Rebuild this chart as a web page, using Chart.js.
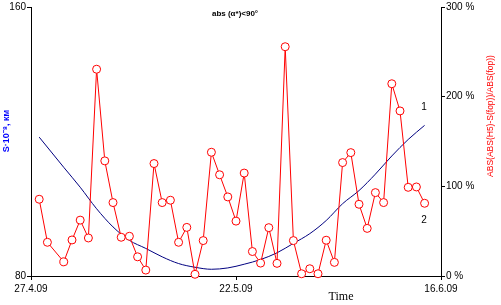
<!DOCTYPE html>
<html>
<head>
<meta charset="utf-8">
<script src="https://cdn.jsdelivr.net/npm/chart.js@4/dist/chart.umd.min.js"></script>
<style>
  html, body { margin: 0; padding: 0; background: #fff; }
  #wrap { width: 501px; height: 305px; }
</style>
</head>
<body>
<div id="wrap"><canvas id="c"></canvas></div>
<script>
// days counted from 27.4.09
const dateLabels = ['27.4.09', '22.5.09', '16.6.09'];
const dateTicks = [0, 25, 50];

// curve 2: relative deviation, %
const ratioDays = [1, 2, 4, 5, 6, 7, 8, 9, 10, 11, 12, 13, 14, 15, 16, 17, 18, 19, 20, 21, 22, 23, 24, 25,
  26, 27, 28, 29, 30, 31, 32, 33, 34, 35, 36, 37, 38, 39, 40, 41, 42, 43, 44, 45, 46, 47, 48];
const ratioPct = [85.6, 37.6, 15.8, 40.2, 62.3, 42.4, 230.6, 128.4, 81.9, 43.2, 44.3, 21.4, 6.6, 125.4,
  81.9, 84.5, 37.6, 54.2, 1.9, 39.5, 138, 112.9, 88.2, 61.2, 114.8, 27.3, 14.4, 53.9, 14.1, 255.7,
  39.5, 2.5, 8.1, 2.5, 39.9, 15.2, 126.5, 137.6, 80, 53.1, 93, 81.9, 214.4, 184.1, 98.9, 99.3, 81.1];

// curve 1: distance S, 10^8 km
const distDays = [1, 4, 6, 8, 10, 12, 14, 16, 18, 20, 22, 24, 26, 28, 30, 32, 34, 36, 38, 40, 42, 44, 46, 48];
const distS = [121.3, 112.3, 106.4, 100.0, 94.6, 90.6, 88.2, 85.7, 83.7, 82.6, 82.0, 82.4, 83.5, 84.9,
  86.9, 89.7, 92.6, 96.5, 101.5, 105.4, 110.3, 115.7, 120.6, 124.8];

const ratioPoints = ratioDays.map((d, i) => ({ x: d, y: ratioPct[i] }));
const distPoints = distDays.map((d, i) => ({ x: d, y: distS[i] }));

const FONT = 'Liberation Sans, Arial, sans-serif';

// extra texts around the plot
const textPlugin = {
  id: 'texts',
  afterDraw(chart) {
    const ctx = chart.ctx;
    ctx.save();
    ctx.textBaseline = 'middle';
    ctx.textAlign = 'center';

    ctx.fillStyle = '#000';
    ctx.font = 'bold 8px ' + FONT;
    ctx.fillText('abs (α*)<90°', 235, 14);

    ctx.font = '10px ' + FONT;
    ctx.fillText('1', 424, 107);
    ctx.fillText('2', 424, 220);

    ctx.font = '12px "Liberation Serif", "Times New Roman", serif';
    ctx.fillText('Time', 341, 297);

    // left title
    ctx.save();
    ctx.translate(7, 131);
    ctx.rotate(-Math.PI / 2);
    ctx.fillStyle = '#0000ff';
    ctx.font = 'bold 9px ' + FONT;
    ctx.fillText('S·10⁻⁸, км', 0, 0);
    ctx.restore();

    // right title
    ctx.save();
    ctx.translate(491, 116);
    ctx.rotate(-Math.PI / 2);
    ctx.fillStyle = '#ff0000';
    ctx.font = '8.5px ' + FONT;
    ctx.fillText('ABS(ABS(H5)-S(fop))/ABS(fop))', 0, 0);
    ctx.restore();

    ctx.restore();
  }
};

function fixTicks(values) {
  return scale => { scale.ticks = values.map(v => ({ value: v })); };
}

const axisGrid = { display: true, drawOnChartArea: false, drawTicks: true, tickLength: 4, color: '#000' };
const axisBorder = { display: true, color: '#000', width: 1 };

new Chart(document.getElementById('c'), {
  type: 'line',
  data: {
    datasets: [
      {
        label: 'ratio',
        data: ratioPoints,
        yAxisID: 'y2',
        borderColor: '#ff0000',
        borderWidth: 1,
        pointRadius: 4,
        pointBorderWidth: 1,
        pointBorderColor: '#ff0000',
        pointBackgroundColor: '#ffffff',
        tension: 0,
        clip: false,
        order: 1
      },
      {
        label: 'S',
        data: distPoints,
        yAxisID: 'y',
        borderColor: '#000080',
        borderWidth: 1,
        pointRadius: 0,
        cubicInterpolationMode: 'monotone',
        clip: false,
        order: 2
      }
    ]
  },
  options: {
    responsive: true,
    maintainAspectRatio: false,
    animation: false,
    events: [],
    layout: { padding: { top: 5, left: 0, right: 0, bottom: 0 } },
    plugins: {
      legend: { display: false },
      tooltip: { enabled: false },
      title: { display: false }
    },
    scales: {
      x: {
        type: 'linear',
        position: 'bottom',
        min: 0,
        max: 50,
        grid: axisGrid,
        border: axisBorder,
        afterBuildTicks: fixTicks(dateTicks),
        afterFit: s => { s.height = 29; },
        ticks: {
          color: '#000',
          padding: 3,
          maxRotation: 0,
          font: { family: FONT, size: 10 },
          callback: (v, i) => dateLabels[i]
        }
      },
      y: {
        position: 'left',
        min: 80,
        max: 160,
        grid: axisGrid,
        border: axisBorder,
        afterBuildTicks: fixTicks([80, 160]),
        afterFit: s => { s.width = 31; },
        ticks: { color: '#000', padding: 1, font: { family: FONT, size: 10 } }
      },
      y2: {
        position: 'right',
        min: 0,
        max: 300,
        grid: axisGrid,
        border: axisBorder,
        afterBuildTicks: fixTicks([0, 100, 200, 300]),
        afterFit: s => { s.width = 60; },
        ticks: {
          color: '#000',
          padding: 1,
          font: { family: FONT, size: 10 },
          callback: v => v + ' %'
        }
      }
    }
  },
  plugins: [textPlugin]
});
</script>
</body>
</html>
